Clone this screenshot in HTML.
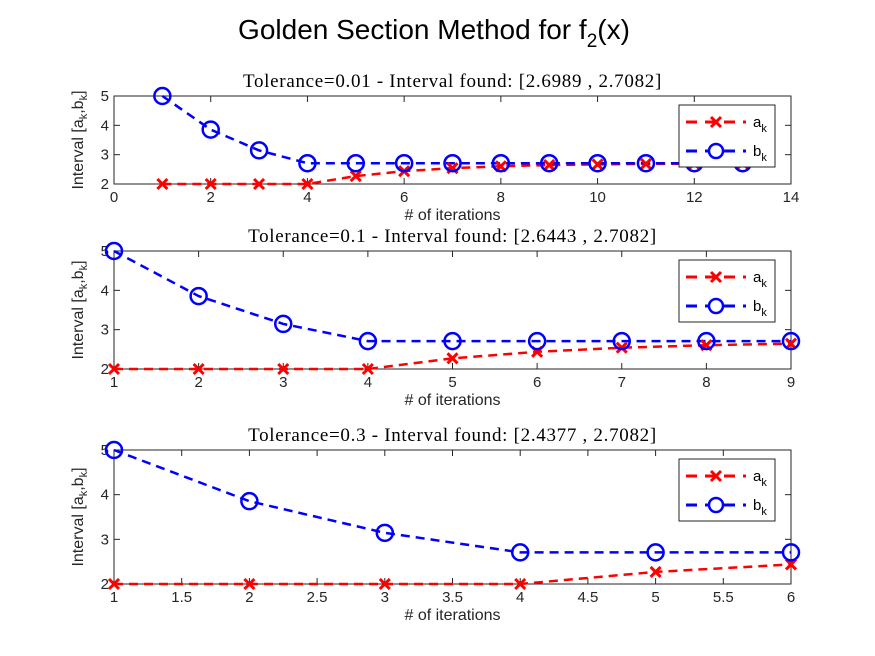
<!DOCTYPE html>
<html><head><meta charset="utf-8"><style>
body{margin:0;background:#fff;}
svg{display:block;font-family:"Liberation Sans",sans-serif;}
</style></head><body>
<svg id="s" width="875" height="656">
<text x="434" y="39" font-size="28" text-anchor="middle">Golden Section Method for f<tspan font-size="19" dy="8">2</tspan><tspan dy="-8">(x)</tspan></text>
</svg>
<script>
const aVals=[2,2,2,2,2.2705,2.4377,2.5410,2.6049,2.6443,2.6687,2.6837,2.6930,2.6989];
const bVals=[5,3.8541,3.1459,2.7082,2.7082,2.7082,2.7082,2.7082,2.7082,2.7082,2.7082,2.7082,2.7082];
const iterCounts=[13,9,6];
const titles=["Tolerance=0.01 - Interval found: [2.6989 , 2.7082]","Tolerance=0.1 - Interval found: [2.6443 , 2.7082]","Tolerance=0.3 - Interval found: [2.4377 , 2.7082]"];
const xTicks=[[0,2,4,6,8,10,12,14],[1,2,3,4,5,6,7,8,9],[1,1.5,2,2.5,3,3.5,4,4.5,5,5.5,6]];
const xDomains=[[0,14],[1,9],[1,6]];
const yTicks=[2,3,4,5];
const boxes=[{t:96,b:184},{t:251,b:369},{t:450,b:584}];
const svg=document.getElementById('s');const NS='http://www.w3.org/2000/svg';
function mk(tag,at,par){const e=document.createElementNS(NS,tag);for(const k in at)e.setAttribute(k,at[k]);(par||svg).appendChild(e);return e;}
const L=114,R=791;
boxes.forEach((bx,p)=>{
 const g=mk('g',{});
 
 
 const [d0,d1]=xDomains[p];
 const X=v=>L+(v-d0)/(d1-d0)*(R-L);
 const Y=v=>bx.b-(v-2)/3*(bx.b-bx.t);
 mk('rect',{x:L,y:bx.t,width:R-L,height:bx.b-bx.t,fill:'#fff',stroke:'#262626','stroke-width':1},g);
 xTicks[p].forEach(v=>{const x=X(v);
  mk('line',{x1:x,x2:x,y1:bx.b,y2:bx.b-6,stroke:'#262626'},g);
  mk('line',{x1:x,x2:x,y1:bx.t,y2:bx.t+6,stroke:'#262626'},g);
  const t=mk('text',{x:x,y:bx.b+18,'font-size':15,'text-anchor':'middle',fill:'#262626'},g);t.textContent=v;
  });
 yTicks.forEach(v=>{const y=Y(v);
  mk('line',{x1:L,x2:L+6,y1:y,y2:y,stroke:'#262626'},g);
  mk('line',{x1:R,x2:R-6,y1:y,y2:y,stroke:'#262626'},g);
  const t=mk('text',{x:L-5,y:y+5,'font-size':15,'text-anchor':'end',fill:'#262626'},g);t.textContent=v;
  });
 const tt=mk('text',{x:(L+R)/2,y:bx.t-9,'font-size':19,'letter-spacing':0.7,'text-anchor':'middle','font-family':'Liberation Serif, serif'},g);tt.textContent=titles[p];
 
 const xl=mk('text',{x:(L+R)/2,y:bx.b+36,'font-size':16,'text-anchor':'middle',fill:'#262626'},g);xl.textContent='# of iterations';
 
 const cy=(bx.t+bx.b)/2;
 const yl=mk('text',{transform:`translate(${L-31},${cy}) rotate(-90)`,'font-size':16,'text-anchor':'middle',fill:'#262626'},g);
 yl.innerHTML='Interval [a<tspan font-size="11" dy="4">k</tspan><tspan dy="-4">,b</tspan><tspan font-size="11" dy="4">k</tspan><tspan dy="-4">]</tspan>';
 
 const n=iterCounts[p];
 const pa=[],pb=[];for(let i=0;i<n;i++){pa.push(X(i+1)+','+Y(aVals[i]));pb.push(X(i+1)+','+Y(bVals[i]));}
 const la=mk('polyline',{points:pa.join(' '),fill:'none',stroke:'#f00','stroke-width':2.5,'stroke-dasharray':'9,6'},g);
 
 const lb=mk('polyline',{points:pb.join(' '),fill:'none',stroke:'#00f','stroke-width':2.5,'stroke-dasharray':'9,6'},g);
 
 for(let i=0;i<n;i++){const x=X(i+1),y=Y(aVals[i]);
  const m=mk('path',{d:`M${x-5},${y-5}L${x+5},${y+5}M${x-5},${y+5}L${x+5},${y-5}`,stroke:'#f00','stroke-width':3},g);
  }
 for(let i=0;i<n;i++){
  const c=mk('circle',{cx:X(i+1),cy:Y(bVals[i]),r:8,fill:'none',stroke:'#00f','stroke-width':2.5},g);
  }
 const lt=bx.t+9;
 const lg=mk('g',{},g);
 mk('rect',{x:679,y:lt,width:96,height:62,fill:'#fff',stroke:'#262626'},lg);
 const y1=lt+17,y2=lt+46;
 mk('line',{x1:686,x2:746,y1:y1,y2:y1,stroke:'#f00','stroke-width':3,'stroke-dasharray':'11,8'},lg);
 mk('path',{d:`M${711},${y1-5}L${721},${y1+5}M${711},${y1+5}L${721},${y1-5}`,stroke:'#f00','stroke-width':3},lg);
 mk('line',{x1:686,x2:746,y1:y2,y2:y2,stroke:'#00f','stroke-width':3,'stroke-dasharray':'11,8'},lg);
 mk('circle',{cx:716,cy:y2,r:7,fill:'#fff',stroke:'#00f','stroke-width':2.5},lg);
 const ta=mk('text',{x:753,y:y1+5,'font-size':15},lg);ta.innerHTML='a<tspan font-size="11" dy="5">k</tspan>';
 const tb=mk('text',{x:753,y:y2+5,'font-size':15},lg);tb.innerHTML='b<tspan font-size="11" dy="5">k</tspan>';
});
</script>
</body></html>
